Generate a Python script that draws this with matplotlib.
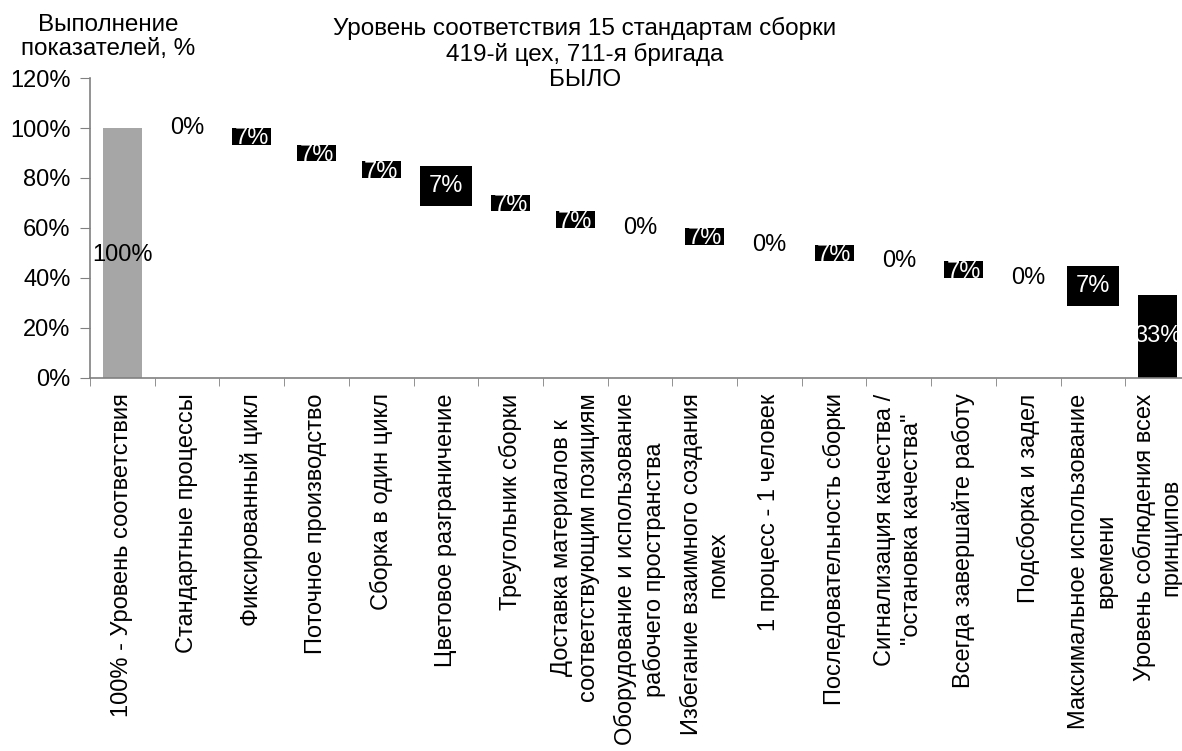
import matplotlib
matplotlib.use("Agg")
import matplotlib.pyplot as plt
from matplotlib.ticker import FuncFormatter, FixedLocator

plt.rcParams["font.family"] = ["Liberation Sans", "DejaVu Sans"]

# data
start_label = "100% - Уровень соответствия"
start_value = 100.0
standards = [
    "Стандартные процессы",
    "Фиксированный цикл",
    "Поточное производство",
    "Сборка в один цикл",
    "Цветовое разграничение",
    "Треугольник сборки",
    "Доставка материалов к\nсоответствующим позициям",
    "Оборудование и использование\nрабочего пространства",
    "Избегание взаимного создания\nпомех",
    "1 процесс - 1 человек",
    "Последовательность сборки",
    "Сигнализация качества /\n\"остановка качества\"",
    "Всегда завершайте работу",
    "Подсборка и задел",
    "Максимальное использование\nвремени",
]
losses = [0, 6.67, 6.67, 6.67, 6.67, 6.67, 6.67, 0, 6.67, 0, 6.67, 0, 6.67, 0, 6.67]
end_label = "Уровень соблюдения всех\nпринципов"
# labels drawn in a black box (bigger than the bar)
boxed = {"Цветовое разграничение", "Максимальное использование\nвремени"}

categories = [start_label] + standards + [end_label]
FS = 17
TITLE_FS = 17.5

fig = plt.figure(figsize=(11.82, 7.51), dpi=100)
ax = fig.add_axes([90 / 1182, 373 / 751, 1100 / 1182, 300 / 751])

width = 0.6
# start bar
ax.bar(0, start_value, width=width, color="#a6a6a6")
ax.annotate(f"{start_value:.0f}%", (0, start_value / 2), xytext=(0, -1.5),
            textcoords="offset points", ha="center", va="center",
            fontsize=FS, color="black")

level = start_value
for i, (name, v) in enumerate(zip(standards, losses), start=1):
    bottom = level - v
    if v > 0:
        ax.bar(i, v, bottom=bottom, width=width, color="black")
        if name in boxed:
            ax.text(i, bottom + v / 2, f"{v:.0f}%", ha="center", va="center",
                    fontsize=FS, color="white",
                    bbox=dict(boxstyle="square,pad=0.38", fc="black", ec="none"))
        else:
            ax.annotate(f"{v:.0f}%", (i, bottom + v / 2), xytext=(0, -1.5),
                        textcoords="offset points", ha="center", va="center",
                        fontsize=FS, color="white")
    else:
        ax.annotate(f"{v:.0f}%", (i, level), ha="center", va="center",
                    fontsize=FS, color="black")
    level = bottom

n_end = len(categories) - 1
ax.bar(n_end, level, width=width, color="black")
ax.annotate(f"{level:.0f}%", (n_end, level / 2), ha="center", va="center",
            fontsize=FS, color="white")

ax.set_xlim(-0.5, len(categories) - 0.5)
ax.set_ylim(0, 120)
ax.set_yticks(range(0, 121, 20))
ax.yaxis.set_major_formatter(FuncFormatter(lambda y, _: f"{y:.0f}%"))
ax.set_xticks(range(len(categories)))
ax.set_xticklabels(categories, rotation=90, ha="center", va="top",
                   multialignment="center", fontsize=FS, linespacing=1.3)
ax.xaxis.set_minor_locator(FixedLocator([k - 0.5 for k in range(len(categories) + 1)]))
ax.tick_params(axis="x", which="major", length=0, pad=11)
ax.tick_params(axis="x", which="minor", length=6, color="#808080", direction="out")
ax.tick_params(axis="y", length=7, color="#808080", labelsize=FS, pad=7)

for s in ("top", "right"):
    ax.spines[s].set_visible(False)
for s in ("left", "bottom"):
    ax.spines[s].set_color("#808080")
    ax.spines[s].set_linewidth(1.2)

fig.text(585 / 1182, 1 - 17 / 751,
         "Уровень соответствия 15 стандартам сборки\n419-й цех, 711-я бригада\nБЫЛО",
         ha="center", va="top", fontsize=TITLE_FS, linespacing=1.17)
fig.text(108 / 1182, 1 - 14 / 751, "Выполнение\nпоказателей, %",
         ha="center", va="top", fontsize=TITLE_FS, linespacing=1.13)

fig.savefig("out.png", dpi=100)
